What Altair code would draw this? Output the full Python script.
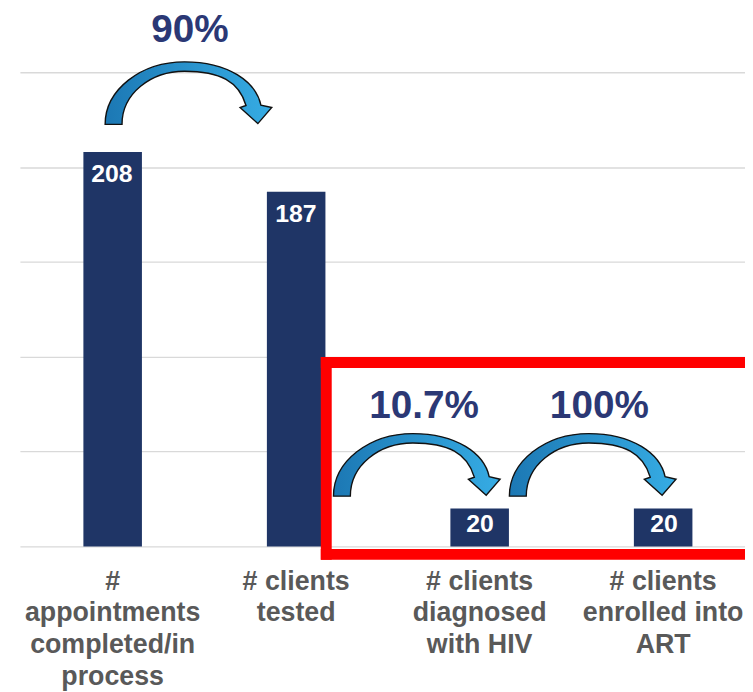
import altair as alt
import pandas as pd

# ---- data ----
categories = [
    "#|appointments|completed/in|process",
    "# clients|tested",
    "# clients|diagnosed|with HIV",
    "# clients|enrolled into|ART",
]
values = [208, 187, 20, 20]

# conversion annotations (x in category-index units, y in value units)
pct_labels = ["90%", "10.7%", "100%"]
pct_x = [0.924, 2.197, 3.149]
pct_y = [272, 74, 74]

arrow_x = [0.916, 2.157, 3.113]
arrow_y = [239, 43, 43]

# highlight box edges (top, bottom, left)
box_x = [1.665, 1.665, 1.665]
box_x2 = [4.6, 4.6, 1.665]
box_y = [97, -4.2, -4.2]
box_y2 = [97, -4.2, 97]

df = pd.DataFrame({"category": categories, "value": values})
pct_df = pd.DataFrame({"x": pct_x, "y": pct_y, "label": pct_labels})
arrow_df = pd.DataFrame({"x": arrow_x, "y": arrow_y})
box_df = pd.DataFrame({"x": box_x, "x2": box_x2, "y": box_y, "y2": box_y2})

NAVY = "#1f3566"
RANGE = [0, 742]
yscale = alt.Scale(domain=[0, 250], nice=False, zero=True)
xband = alt.Scale(domain=categories, range=RANGE, paddingInner=0.681, paddingOuter=0.346)
xq = alt.Scale(domain=[0, 4], range=RANGE, nice=False, zero=False)

# curved-arrow glyph (normalised symbol path)
ARROW = (
    "M -1.012 0.380 C -1.012 -0.042 -0.578 -0.380 -0.048 -0.380 "
    "C 0.482 -0.380 0.819 -0.139 0.880 0.145 "
    "L 1.012 0.175 L 0.843 0.370 L 0.627 0.175 L 0.699 0.150 "
    "C 0.614 -0.139 0.386 -0.265 -0.048 -0.265 "
    "C -0.458 -0.265 -0.807 0.006 -0.807 0.380 Z"
)

bars = alt.Chart(df).mark_bar(color=NAVY).encode(
    x=alt.X("category:N", sort=categories, scale=xband, title=None,
            axis=alt.Axis(labelAngle=0, ticks=False, domain=False,
                          labelFont="Liberation Sans", labelFontWeight="bold",
                          labelFontSize=27, labelColor="#595959",
                          labelLineHeight=32, labelPadding=22, labelLimit=400,
                          labelExpr="split(datum.label, '|')")),
    y=alt.Y("value:Q", scale=yscale, title=None,
            axis=alt.Axis(values=[0, 50, 100, 150, 200, 250], labels=False,
                          ticks=False, domain=False, grid=True,
                          gridColor="#d9d9d9", gridWidth=1.3)),
)

def bar_text(cond, dy):
    return alt.Chart(df).mark_text(
        color="white", font="Liberation Sans", fontWeight="bold",
        fontSize=25, baseline="middle", dy=dy
    ).encode(
        x=alt.X("category:N", sort=categories, scale=xband, axis=None),
        y=alt.Y("value:Q", scale=yscale, title=None),
        text="value:Q",
    ).transform_filter(cond)

big_text = bar_text(alt.datum.value > 100, 22)
small_text = bar_text(alt.datum.value <= 100, 16)

box = alt.Chart(box_df).mark_rule(
    color="#ff0000", strokeWidth=11, strokeCap="square"
).encode(
    x=alt.X("x:Q", scale=xq, axis=None),
    x2="x2:Q",
    y=alt.Y("y:Q", scale=yscale, title=None),
    y2="y2:Q",
)

grad = alt.Gradient(
    gradient="linear",
    stops=[alt.GradientStop(color="#1c78b4", offset=0),
           alt.GradientStop(color="#36ace4", offset=1)],
    x1=0, x2=1, y1=0, y2=0,
)

arrows = alt.Chart(arrow_df).mark_point(
    shape=ARROW, size=27556, filled=True, fill=grad, fillOpacity=1,
    stroke="#111111", strokeWidth=1.4, opacity=1
).encode(
    x=alt.X("x:Q", scale=xq, axis=None),
    y=alt.Y("y:Q", scale=yscale, title=None),
)

pct = alt.Chart(pct_df).mark_text(
    font="Liberation Sans", fontWeight="bold", fontSize=39,
    color="#2b3875", baseline="middle"
).encode(
    x=alt.X("x:Q", scale=xq, axis=None),
    y=alt.Y("y:Q", scale=yscale, title=None),
    text="label:N",
)

chart = alt.layer(bars, big_text, small_text, box, arrows, pct).resolve_scale(
    x="independent"
).properties(
    width=731, height=478,
    autosize=alt.AutoSizeParams(type="none"),
    padding={"left": 12, "top": 62, "right": 0, "bottom": 146},
    background="white",
).configure_view(stroke=None)

chart.save("out.html", embed_options={"renderer": "svg", "actions": False})
